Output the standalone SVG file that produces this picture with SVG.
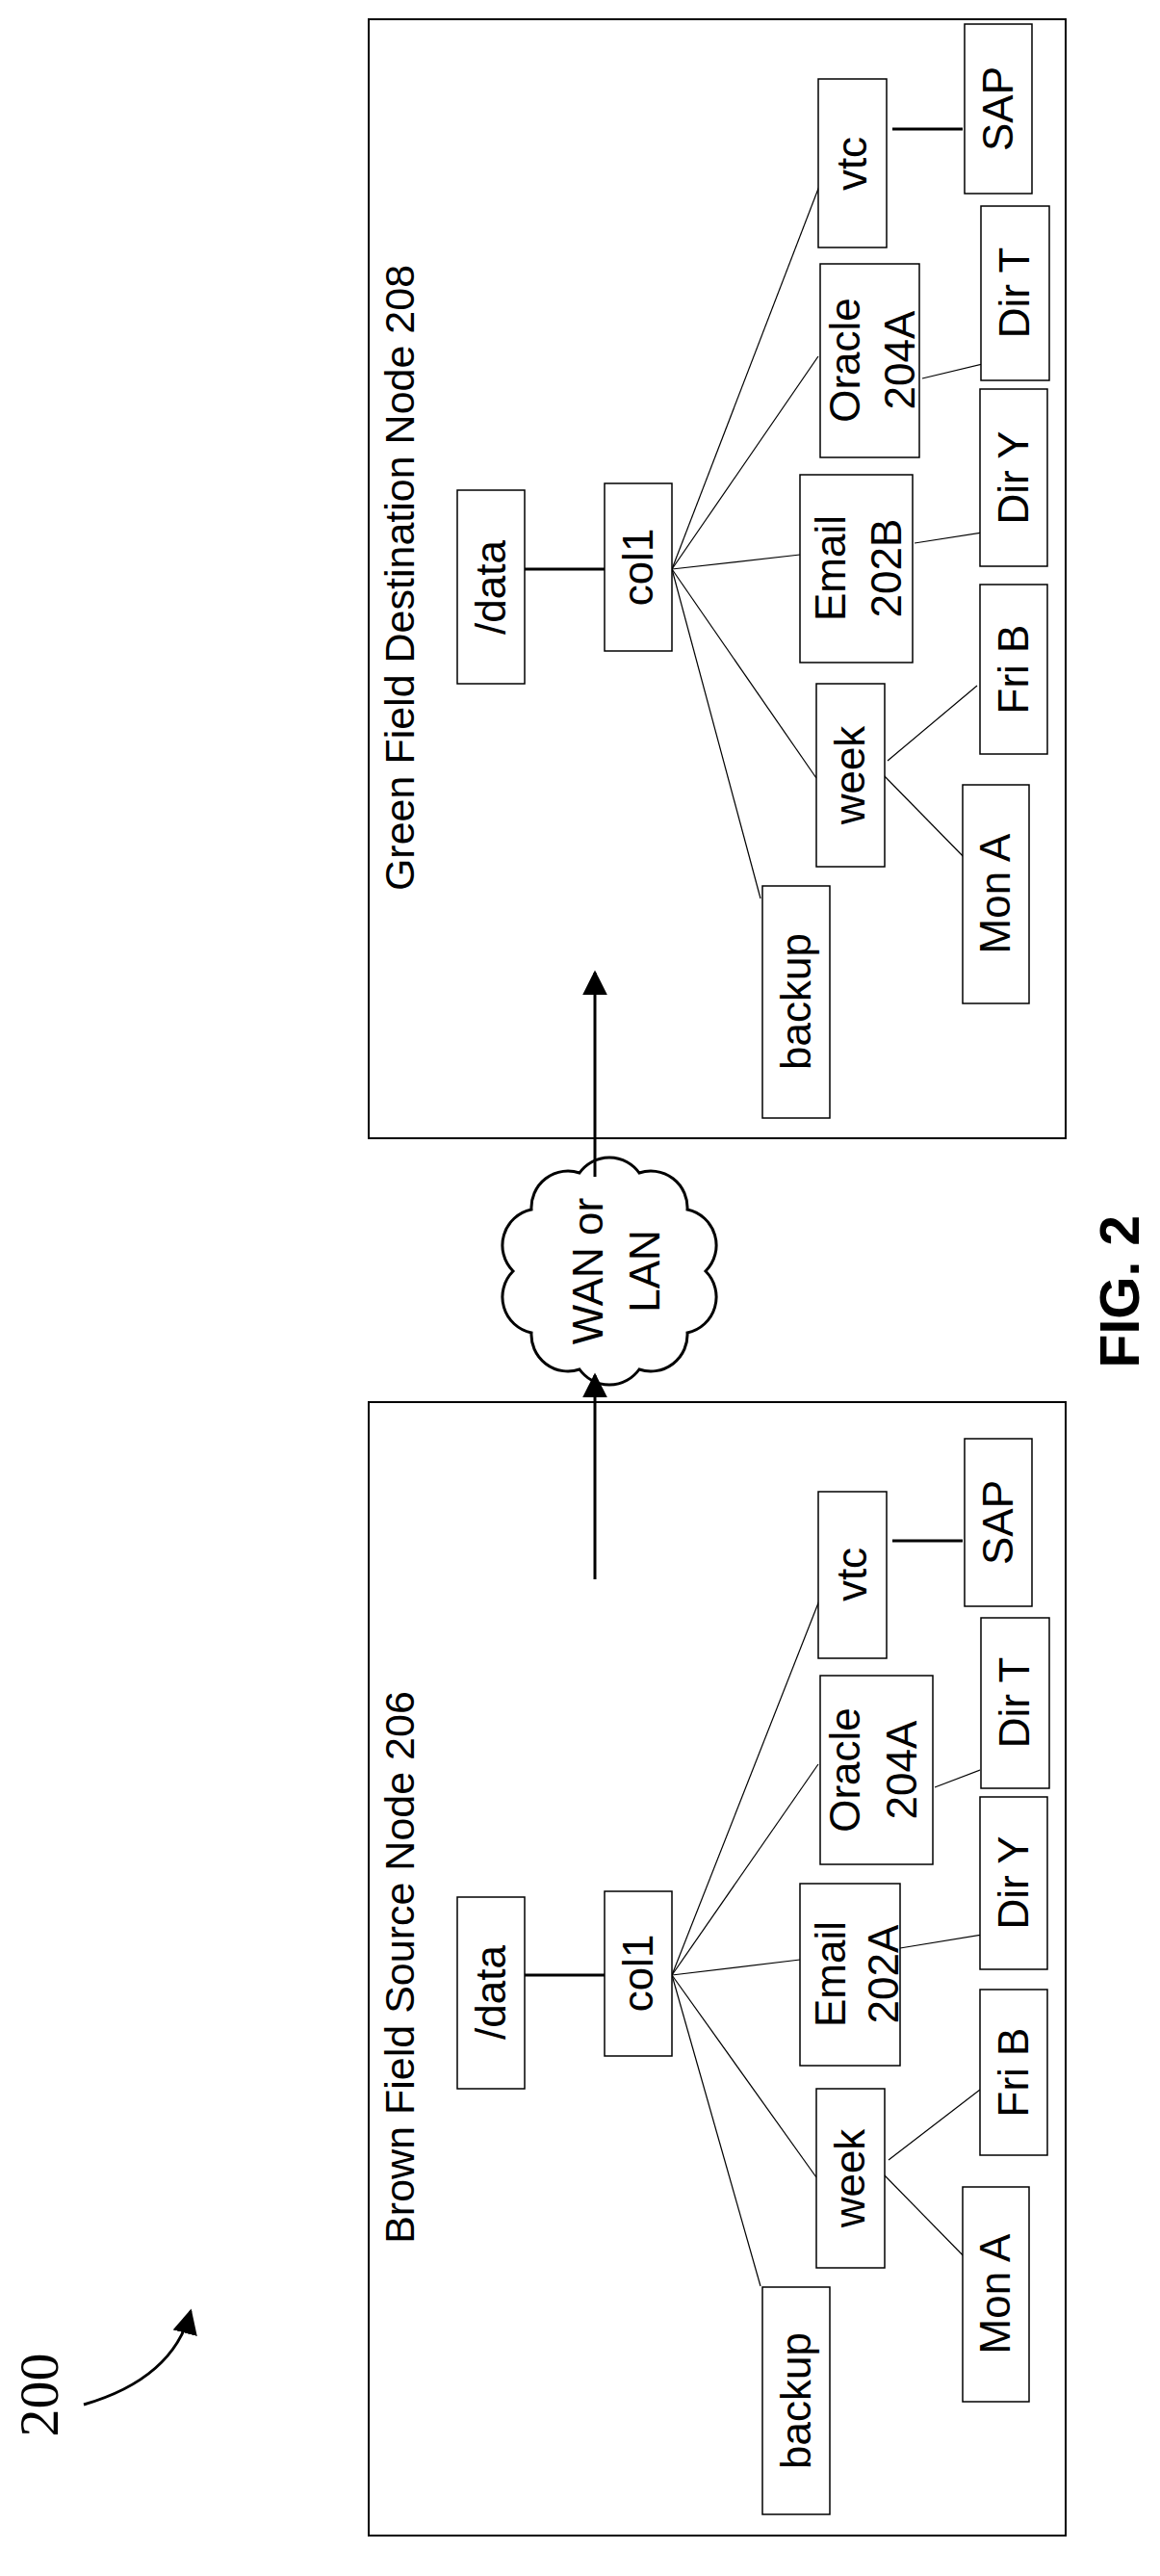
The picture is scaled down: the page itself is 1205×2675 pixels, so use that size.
<svg xmlns="http://www.w3.org/2000/svg" width="1205" height="2675" viewBox="0 0 1205 2675">
<style>
.n{fill:#fff;stroke:#000;stroke-width:1.5}
.f{fill:none;stroke:#000;stroke-width:2}
.t{font-family:"Liberation Sans",Arial,sans-serif;font-size:44px;text-anchor:middle;fill:#000}
.c line{stroke:#000;stroke-width:1.2}
.c .h{stroke-width:3}
</style>
<defs>
<marker id="ab" viewBox="0 0 10 10" refX="9" refY="5" markerWidth="26" markerHeight="26" markerUnits="userSpaceOnUse" orient="auto"><path d="M0,0L10,5L0,10z" fill="#000"/></marker>
</defs>
<rect class="f" x="383" y="20" width="724" height="1162"/>
<rect class="f" x="383" y="1456" width="724" height="1177"/>
<g id="green-title"><text class="t" style="font-size:43px" transform="translate(430,600) rotate(-90)">Green Field Destination Node 208</text></g>
<g id="brown-title"><text class="t" style="font-size:43px" transform="translate(430,2043) rotate(-90)">Brown Field Source Node 206</text></g>
<g class="c" id="connectors">
<line class="h" x1="545" y1="591" x2="628" y2="591"/>
<line x1="698" y1="591" x2="790" y2="933"/>
<line x1="698" y1="591" x2="848" y2="808"/>
<line x1="698" y1="591" x2="831" y2="576"/>
<line x1="698" y1="591" x2="850" y2="370"/>
<line x1="698" y1="591" x2="855" y2="183"/>
<line class="h" x1="927" y1="134" x2="1000" y2="134"/>
<line x1="950" y1="564" x2="1065" y2="546"/>
<line x1="958" y1="393" x2="1025" y2="377"/>
<line x1="922" y1="790" x2="1015" y2="712"/>
<line x1="912" y1="799" x2="1008" y2="897"/>
<line class="h" x1="545" y1="2051" x2="628" y2="2051"/>
<line x1="698" y1="2051" x2="790" y2="2374"/>
<line x1="698" y1="2051" x2="848" y2="2261"/>
<line x1="698" y1="2051" x2="831" y2="2035"/>
<line x1="698" y1="2051" x2="850" y2="1832"/>
<line x1="698" y1="2051" x2="855" y2="1652"/>
<line class="h" x1="927" y1="1600" x2="1000" y2="1600"/>
<line x1="935" y1="2023" x2="1027" y2="2008"/>
<line x1="971" y1="1856" x2="1018" y2="1838"/>
<line x1="923" y1="2243" x2="1018" y2="2170"/>
<line x1="915" y1="2255" x2="1008" y2="2350"/>
<line class="h" x1="618" y1="1222" x2="618" y2="1010" marker-end="url(#ab)"/>
<line class="h" x1="618" y1="1640" x2="618" y2="1428" marker-end="url(#ab)"/>
<path d="M87,2497 Q180,2470 198,2400" fill="none" stroke="#000" stroke-width="3" marker-end="url(#ab)"/>
</g>
<g id="cloud">
<path fill="none" stroke="#000" stroke-width="3" d="M733,1320 A38,38 0 0 1 714,1384 A38,38 0 0 1 664,1422 A38,38 0 0 1 602,1422 A38,38 0 0 1 552,1384 A38,38 0 0 1 533,1320 A38,38 0 0 1 552,1256 A38,38 0 0 1 602,1218 A38,38 0 0 1 664,1218 A38,38 0 0 1 714,1256 A38,38 0 0 1 733,1320 Z"/>
<text class="t" transform="translate(626,1320) rotate(-90)">WAN or</text>
<text class="t" transform="translate(685,1320) rotate(-90)">LAN</text>
</g>
<g id="g-data"><rect class="n" x="475" y="509" width="70" height="201"/><text class="t" transform="translate(525,610) rotate(-90)">/data</text></g>
<g id="g-col1"><rect class="n" x="628" y="502" width="70" height="174"/><text class="t" transform="translate(678,589) rotate(-90)">col1</text></g>
<g id="g-backup"><rect class="n" x="792" y="920" width="70" height="241"/><text class="t" transform="translate(842,1040) rotate(-90)">backup</text></g>
<g id="g-week"><rect class="n" x="848" y="710" width="71" height="190"/><text class="t" transform="translate(898,805) rotate(-90)">week</text></g>
<g id="g-email"><rect class="n" x="831" y="493" width="117" height="195"/><text class="t" transform="translate(878,590) rotate(-90)">Email</text><text class="t" transform="translate(936,590) rotate(-90)">202B</text></g>
<g id="g-oracle"><rect class="n" x="852" y="274" width="103" height="201"/><text class="t" transform="translate(893,374) rotate(-90)">Oracle</text><text class="t" transform="translate(950,374) rotate(-90)">204A</text></g>
<g id="g-vtc"><rect class="n" x="850" y="82" width="71" height="175"/><text class="t" transform="translate(900,170) rotate(-90)">vtc</text></g>
<g id="g-sap"><rect class="n" x="1002" y="25" width="70" height="176"/><text class="t" transform="translate(1052,113) rotate(-90)">SAP</text></g>
<g id="g-dirt"><rect class="n" x="1019" y="214" width="71" height="181"/><text class="t" transform="translate(1069,304) rotate(-90)">Dir T</text></g>
<g id="g-diry"><rect class="n" x="1018" y="404" width="70" height="184"/><text class="t" transform="translate(1068,496) rotate(-90)">Dir Y</text></g>
<g id="g-frib"><rect class="n" x="1018" y="607" width="70" height="176"/><text class="t" transform="translate(1068,695) rotate(-90)">Fri B</text></g>
<g id="g-mona"><rect class="n" x="1000" y="815" width="69" height="227"/><text class="t" transform="translate(1049,928) rotate(-90)">Mon A</text></g>
<g id="b-data"><rect class="n" x="475" y="1970" width="70" height="199"/><text class="t" transform="translate(525,2069) rotate(-90)">/data</text></g>
<g id="b-col1"><rect class="n" x="628" y="1964" width="70" height="171"/><text class="t" transform="translate(678,2049) rotate(-90)">col1</text></g>
<g id="b-backup"><rect class="n" x="792" y="2375" width="70" height="236"/><text class="t" transform="translate(842,2493) rotate(-90)">backup</text></g>
<g id="b-week"><rect class="n" x="848" y="2169" width="71" height="186"/><text class="t" transform="translate(898,2262) rotate(-90)">week</text></g>
<g id="b-email"><rect class="n" x="831" y="1956" width="104" height="189"/><text class="t" transform="translate(878,2050) rotate(-90)">Email</text><text class="t" transform="translate(933,2050) rotate(-90)">202A</text></g>
<g id="b-oracle"><rect class="n" x="852" y="1740" width="117" height="196"/><text class="t" transform="translate(893,1838) rotate(-90)">Oracle</text><text class="t" transform="translate(952,1838) rotate(-90)">204A</text></g>
<g id="b-vtc"><rect class="n" x="850" y="1549" width="71" height="173"/><text class="t" transform="translate(900,1635) rotate(-90)">vtc</text></g>
<g id="b-sap"><rect class="n" x="1002" y="1494" width="70" height="174"/><text class="t" transform="translate(1052,1581) rotate(-90)">SAP</text></g>
<g id="b-dirt"><rect class="n" x="1019" y="1680" width="71" height="177"/><text class="t" transform="translate(1069,1768) rotate(-90)">Dir T</text></g>
<g id="b-diry"><rect class="n" x="1018" y="1866" width="70" height="179"/><text class="t" transform="translate(1068,1955) rotate(-90)">Dir Y</text></g>
<g id="b-frib"><rect class="n" x="1018" y="2066" width="70" height="172"/><text class="t" transform="translate(1068,2152) rotate(-90)">Fri B</text></g>
<g id="b-mona"><rect class="n" x="1000" y="2271" width="69" height="223"/><text class="t" transform="translate(1049,2382) rotate(-90)">Mon A</text></g>
<g id="label-200"><text transform="translate(60,2487) rotate(-90)" style="font-family:'Liberation Serif',serif;font-size:58px;text-anchor:middle">200</text></g>
<g id="fig"><text transform="translate(1183,1262) rotate(-90)" style="font-family:'Liberation Sans',Arial,sans-serif;font-size:57px;font-weight:bold;text-anchor:end">FIG. 2</text></g>
</svg>
